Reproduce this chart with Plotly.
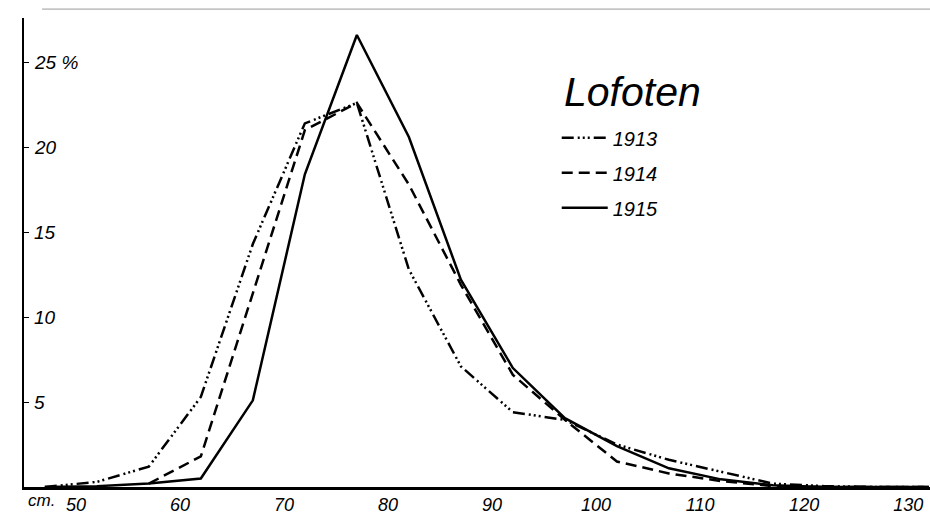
import plotly.graph_objects as go

# body length classes (cm) and percentage of fish, Lofoten
length_cm = [47, 52, 57, 62, 67, 72, 77, 82, 87, 92, 97, 102, 107, 112, 117, 122, 127, 132]
pct_1913 = [0.0, 0.3, 1.2, 5.3, 14.3, 21.4, 22.6, 12.8, 7.1, 4.4, 3.95, 2.5, 1.6, 0.9, 0.2, 0.05, 0.0, 0.0]
pct_1914 = [None, None, 0.2, 1.8, 11.4, 21.0, 22.6, 17.8, 11.9, 6.6, 3.95, 1.5, 0.8, 0.35, 0.05, 0.0, 0.0, 0.0]
pct_1915 = [0.0, 0.05, 0.2, 0.5, 5.1, 18.4, 26.6, 20.6, 12.2, 7.0, 4.05, 2.4, 1.1, 0.45, 0.1, 0.0, 0.0, 0.0]

y_ticks = [5, 10, 15, 20, 25]
y_tick_text = ["5", "10", "15", "20", "25 %"]
x_ticks = [50, 60, 70, 80, 90, 100, 110, 120, 130]

series = [
    ("1913", pct_1913, "12px,4px,2px,3px,2px,3px,2px,4px"),
    ("1914", pct_1914, "11px,6px"),
    ("1915", pct_1915, "solid"),
]

font = "Liberation Sans"
label_font = dict(family=font, size=19, style="italic", color="black")

fig = go.Figure()
for name, vals, dash in series:
    fig.add_trace(go.Scatter(x=length_cm, y=vals, name=name, mode="lines",
                             legendgroup=name,
                             line=dict(color="black", width=2.5, dash=dash)))

# y tick labels sit inside the plot, just right of the axis
annotations = [dict(text=t, x=0, xref="paper", y=v, yref="y", xanchor="left",
                    yanchor="middle", xshift=8, showarrow=False, font=label_font)
               for v, t in zip(y_ticks, y_tick_text)]
annotations += [
    dict(text="cm.", x=0, xref="paper", y=0, yref="paper",
         xanchor="left", yanchor="top", xshift=2, yshift=-2, showarrow=False,
         font=dict(family=font, size=17, style="italic", color="black")),
    dict(text="Lofoten", x=0.594, xref="paper", y=0.842, yref="paper",
         xanchor="left", yanchor="middle", showarrow=False,
         font=dict(family=font, size=41, style="italic", color="black")),
]

fig.update_layout(
    width=930, height=515,
    margin=dict(l=24, r=0, t=18, b=22),
    paper_bgcolor="white", plot_bgcolor="white",
    showlegend=True,
    legend=dict(x=0.588, y=0.786, xanchor="left", yanchor="top",
                font=dict(family=font, size=20, style="italic", color="black"),
                tracegroupgap=6, itemwidth=46,
                bgcolor="rgba(0,0,0,0)"),
    xaxis=dict(range=[45, 132.1], tickvals=x_ticks, showgrid=False, zeroline=False,
               showline=True, linecolor="black", linewidth=2.5, ticks="",
               tickfont=dict(family=font, size=18, style="italic", color="black")),
    yaxis=dict(range=[0, 27.6], tickvals=y_ticks, showticklabels=False,
               showgrid=False, zeroline=False, showline=True, linecolor="black",
               linewidth=2, ticks="inside", ticklen=5, tickcolor="black"),
    annotations=annotations,
    shapes=[dict(type="line", xref="paper", yref="paper", x0=0.02, x1=1,
                 y0=1.019, y1=1.019, line=dict(color="#9a9a9a", width=1))],
)

fig.write_html("out.html", config={"displayModeBar": False},
               post_script="document.body.style.margin='0';document.body.style.overflow='hidden';")
